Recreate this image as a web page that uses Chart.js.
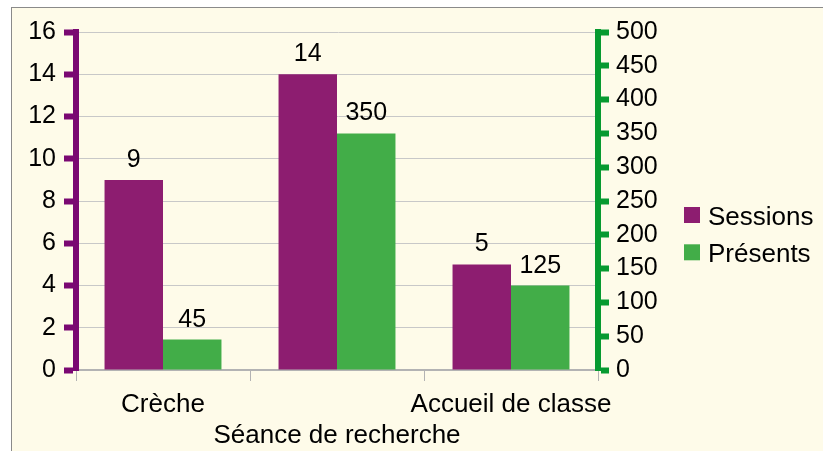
<!DOCTYPE html>
<html><head><meta charset="utf-8">
<script src="https://cdn.jsdelivr.net/npm/chart.js@4/dist/chart.umd.min.js"></script>
<style>
html,body{margin:0;padding:0;background:#fff;width:823px;height:451px;overflow:hidden}
#wrap{position:absolute;left:11px;top:7px;width:812px;height:444px;background:#fefbe9;border-top:1px solid #8a8a8a;border-left:1px solid #8a8a8a;box-sizing:border-box}
canvas{position:absolute;left:0;top:0}
</style></head><body>
<div id="wrap"><canvas id="c" width="811" height="443"></canvas></div>
<script>
const categories = ["Crèche", "", "Accueil de classe"];
const sessions = [9, 14, 5];
const presents = [45, 350, 125];
const seriesNames = ["Sessions", "Présents"];
const axisTitle = "Séance de recherche";
const leftAxis = { min: 0, max: 16, step: 2 };
const rightAxis = { min: 0, max: 500, step: 50 };

const FONT = '"Liberation Sans", Arial, sans-serif';
const PURPLE = '#8d1d70', PURPLE_AXIS = '#7a0872';
const GREEN = '#42ad48', GREEN_AXIS = '#079a30';

Chart.defaults.font.family = FONT;
Chart.defaults.color = '#000';

const valueLabels = {
  id: 'valueLabels',
  afterDatasetsDraw(chart) {
    const ctx = chart.ctx;
    ctx.save();
    ctx.font = '25px ' + FONT;
    ctx.fillStyle = '#000';
    ctx.textAlign = 'center';
    ctx.textBaseline = 'alphabetic';
    chart.data.datasets.forEach((ds, i) => {
      chart.getDatasetMeta(i).data.forEach((bar, j) => {
        ctx.fillText(String(ds.data[j]), bar.x, bar.y - 13);
      });
    });
    ctx.restore();
  }
};

const sideLegend = {
  id: 'sideLegend',
  afterDraw(chart) {
    const ctx = chart.ctx;
    const x0 = chart.scales.y1.right + 16;
    const y0 = chart.chartArea.top + 175;
    ctx.save();
    ctx.font = '26px ' + FONT;
    ctx.textAlign = 'left';
    ctx.textBaseline = 'alphabetic';
    chart.data.datasets.forEach((ds, i) => {
      const y = y0 + i * 37.3;
      ctx.fillStyle = ds.backgroundColor;
      ctx.fillRect(x0, y, 16, 16);
      ctx.fillStyle = '#000';
      ctx.fillText(ds.label, x0 + 24, y + 17.5);
    });
    ctx.restore();
  }
};

new Chart(document.getElementById('c'), {
  type: 'bar',
  data: {
    labels: categories,
    datasets: [
      { label: seriesNames[0], data: sessions, backgroundColor: PURPLE, yAxisID: 'y',
        categoryPercentage: 0.672, barPercentage: 1 },
      { label: seriesNames[1], data: presents, backgroundColor: GREEN, yAxisID: 'y1',
        categoryPercentage: 0.672, barPercentage: 1 }
    ]
  },
  options: {
    responsive: false,
    animation: false,
    layout: { padding: { top: 24, right: 155, left: 0, bottom: 0 } },
    plugins: { legend: { display: false }, tooltip: { enabled: false } },
    scales: {
      x: {
        offset: true,
        grid: { offset: true, drawOnChartArea: false, color: '#b3b3b3', tickColor: '#b3b3b3', tickLength: 11, lineWidth: 1 },
        border: { color: '#b3b3b3', width: 2 },
        ticks: { font: { size: 26 }, color: '#000', padding: 8, maxRotation: 0, autoSkip: false },
        title: { display: true, text: axisTitle, font: { size: 26 }, color: '#000', padding: { top: 0, bottom: 0 } },
        afterFit(s) { s.height = 81; }
      },
      y: {
        position: 'left', min: leftAxis.min, max: leftAxis.max,
        ticks: { stepSize: leftAxis.step, font: { size: 25 }, color: '#000', padding: 8 },
        grid: { color: '#c8c8c8', lineWidth: 1, tickColor: PURPLE_AXIS, tickWidth: 6, tickLength: 12 },
        border: { color: PURPLE_AXIS, width: 6 },
        afterFit(s) { s.width = 64; }
      },
      y1: {
        position: 'right', min: rightAxis.min, max: rightAxis.max,
        ticks: { stepSize: rightAxis.step, font: { size: 25 }, color: '#000', padding: 7 },
        grid: { drawOnChartArea: false, tickColor: GREEN_AXIS, tickWidth: 6, tickLength: 11 },
        border: { color: GREEN_AXIS, width: 6 },
        afterFit(s) { s.width = 70; }
      }
    }
  },
  plugins: [valueLabels, sideLegend]
});
</script>
</body></html>
